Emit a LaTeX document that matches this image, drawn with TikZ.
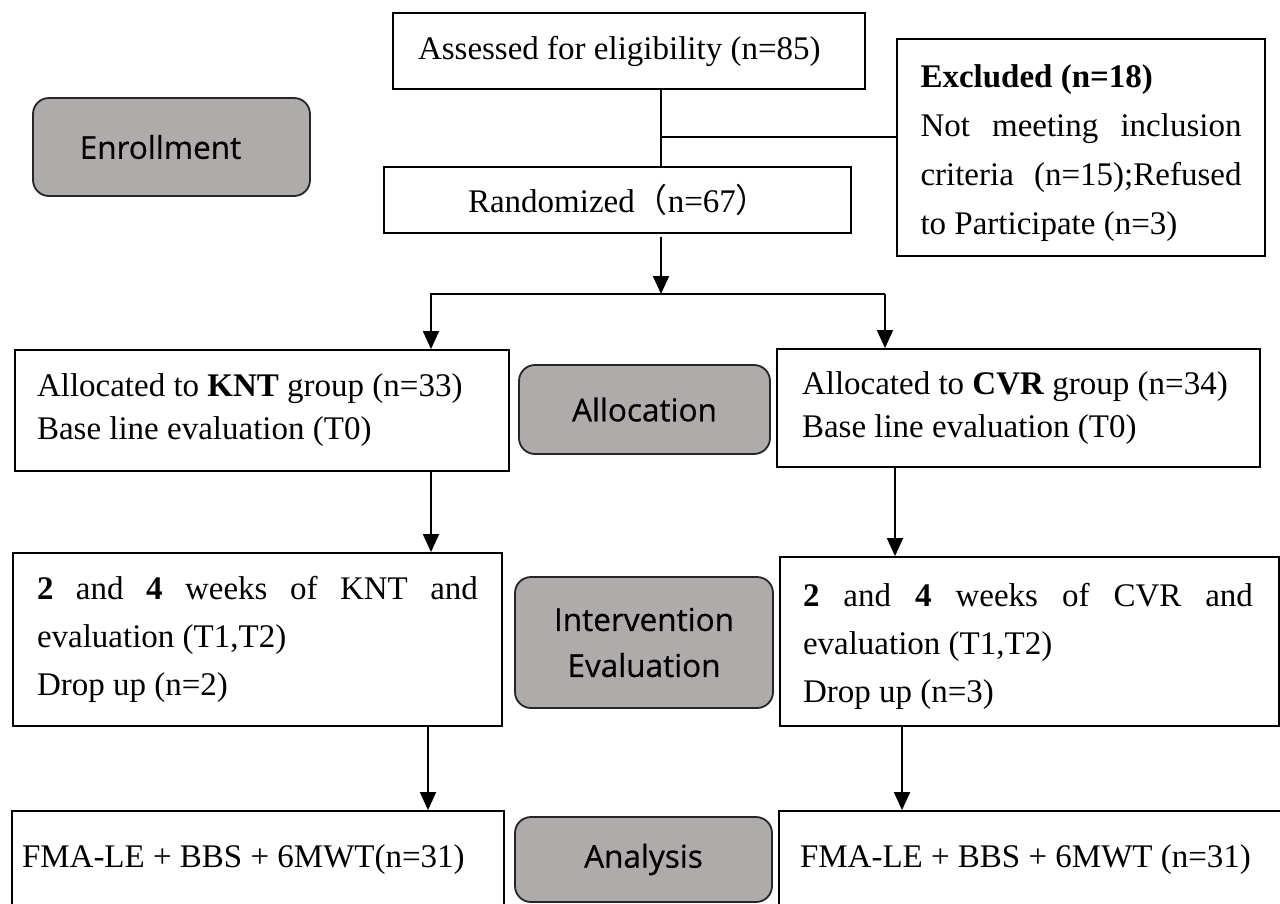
\documentclass[tikz,border=0pt]{standalone}
\usepackage{fontspec}
\setmainfont{Liberation Serif}
\newfontfamily\lblfont[FakeBold=0.6]{Open Sans}
\newfontfamily\cjk{Noto Sans CJK SC}
\usetikzlibrary{arrows.meta,calc}
\definecolor{phasegray}{HTML}{AFABAB}
\begin{document}
\begin{tikzpicture}[x=1pt,y=-1pt,
  box/.style={draw, line width=1.8pt, rectangle, inner ysep=0pt, align=left,
    execute at begin node={\spaceskip=0pt\xspaceskip=0pt\relax}},
  phase/.style={draw=black!85, line width=1.8pt, fill=phasegray, rounded corners=16pt,
    inner sep=0pt, align=center, font=\lblfont\fontsize{31.5}{46}\selectfont},
  arr/.style={line width=1.8pt, -{Triangle[width=16pt,length=18pt]}},
  ln/.style={line width=1.8pt}]
\useasboundingbox (0,0) rectangle (1280,903);
\clip (0,0) rectangle (1280,903);
\fill[white] (0,0) rectangle (1280,903);

% top part
\node[box, minimum width=472pt, minimum height=76pt, inner xsep=25pt, text width=422pt,
  font=\fontsize{33}{44}\selectfont] (assess) at (629,51) {\mbox{Assessed for eligibility (n=85)}};
\node[box, minimum width=467pt, minimum height=66pt, inner xsep=84pt, text width=299pt,
  font=\fontsize{33}{44}\selectfont] (rand) at (617.5,200) {\mbox{Randomized{\cjk （}n=67{\cjk ）}}};
\node[box, minimum width=368pt, minimum height=217pt, inner xsep=23.5pt, text width=321pt,
  font=\fontsize{33}{49}\selectfont] (excl) at (1081,147.5)
  {\rule{0pt}{35pt}\textbf{Excluded (n=18)}\\
   \makebox[321pt]{Not\hfill meeting\hfill inclusion}\\
   \makebox[321pt]{criteria\hfill(n=15);Refused}\\
   to Participate (n=3)};
\node[phase, minimum width=277pt, minimum height=98pt] (enroll) at (171.5,147) {Enrollment\hspace*{22pt}};

% allocation row
\node[box, minimum width=494pt, minimum height=121pt, inner xsep=22pt, text width=450pt,
  font=\fontsize{33}{43}\selectfont] (knt1) at (262,410.5)
  {\mbox{Allocated to \textbf{KNT} group (n=33)}\\ Base line evaluation (T0)};
\node[phase, minimum width=251pt, minimum height=89pt] (alloc) at (644.5,409.5) {Allocation};
\node[box, minimum width=483pt, minimum height=118pt, inner xsep=25pt, text width=433pt,
  font=\fontsize{33}{43}\selectfont] (cvr1) at (1018.5,408)
  {\mbox{Allocated to \textbf{CVR} group (n=34)}\\ Base line evaluation (T0)};

% intervention row
\node[box, minimum width=489pt, minimum height=173pt, inner xsep=24pt, text width=441pt,
  font=\fontsize{33}{48}\selectfont] (knt2) at (257.5,639.5)
  {\makebox[441pt]{\textbf{2}\hfill and\hfill\textbf{4}\hfill weeks\hfill of\hfill KNT\hfill and}\\
   evaluation (T1,T2)\\ Drop up (n=2)};
\node[phase, minimum width=258pt, minimum height=131pt] (interv) at (644,642.5) {Intervention\\Evaluation};
\node[box, minimum width=499pt, minimum height=169pt, inner xsep=23pt, text width=453pt,
  font=\fontsize{33}{48}\selectfont] (cvr2) at (1029.5,641.5)
  {\rule{0pt}{33pt}\makebox[450pt]{\textbf{2}\hfill and\hfill\textbf{4}\hfill weeks\hfill of\hfill CVR\hfill and}\\
   evaluation (T1,T2)\\ Drop up (n=3)};

% analysis row
\node[box, minimum width=492pt, minimum height=98pt, inner xsep=10pt, text width=472pt,
  font=\fontsize{33}{44}\selectfont] (knt3) at (258,860) {\mbox{FMA-LE + BBS + 6MWT(n=31)}};
\node[phase, minimum width=257pt, minimum height=85pt] (analysis) at (643.5,859.5) {Analysis};
\node[box, minimum width=506pt, minimum height=98pt, inner xsep=21pt, text width=464pt,
  font=\fontsize{33}{44}\selectfont] (cvr3) at (1032,860) {\mbox{FMA-LE + BBS + 6MWT (n=31)}};

% connectors
\coordinate (mid) at (661,294);
\coordinate (j) at (661,137);
\draw[ln] (assess.south -| mid) -- (rand.north -| mid);
\draw[ln] (j) -- (j -| excl.west);
\draw[arr] ($(rand.south -| mid)+(0,3)$) -- (mid);
\coordinate (bl) at (431,294);
\coordinate (br) at (885,294);
\draw[arr] (br) -- (bl) -- (bl |- knt1.north);
\draw[arr] (br) -- (br |- cvr1.north);
\coordinate (k2) at (431,0);
\coordinate (c2) at (895,0);
\coordinate (k3) at (428,0);
\coordinate (c3) at (902,0);
\draw[arr] (knt1.south -| k2) -- (knt2.north -| k2);
\draw[arr] (cvr1.south -| c2) -- (cvr2.north -| c2);
\draw[arr] (knt2.south -| k3) -- (knt3.north -| k3);
\draw[arr] (cvr2.south -| c3) -- (cvr3.north -| c3);
\end{tikzpicture}
\end{document}
